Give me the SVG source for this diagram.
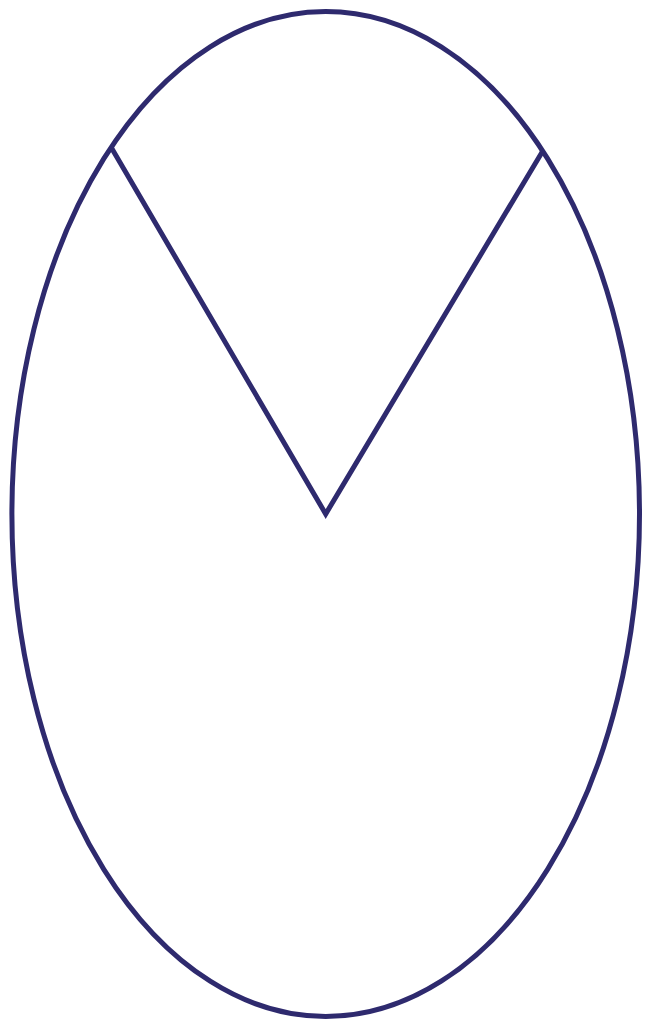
<svg xmlns="http://www.w3.org/2000/svg" width="652" height="1020" viewBox="0 0 652 1020">
<style>.s{fill:none;stroke:#2e2a6e;stroke-width:5;stroke-linejoin:miter}</style>
<rect width="652" height="1020" fill="#ffffff"/>
<g id="shape">
<ellipse class="s" cx="325.7" cy="514" rx="313.8" ry="502.5"/>
<polyline class="s" points="111.7,148.3 325.7,514 542.3,151.7"/>
</g>
</svg>
